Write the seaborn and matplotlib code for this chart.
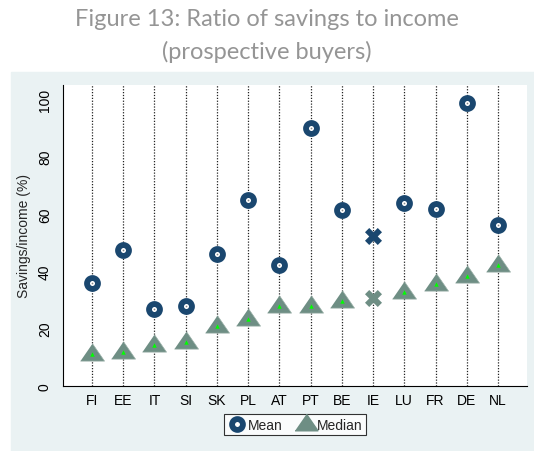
import numpy as np
import pandas as pd
import matplotlib
matplotlib.use("Agg")
import matplotlib.pyplot as plt
from matplotlib.patches import Rectangle
from matplotlib.lines import Line2D
import seaborn as sns

# Data
countries = ["FI", "EE", "IT", "SI", "SK", "PL", "AT", "PT", "BE", "IE", "LU", "FR", "DE", "NL"]
mean_vals = [35.9, 47.4, 27.0, 27.8, 46.1, 64.9, 42.3, 89.9, 61.4, 52.2, 64.0, 61.7, 98.7, 56.2]
median_vals = [11.1, 11.9, 14.4, 15.5, 21.1, 23.3, 27.8, 28.0, 29.5, 30.8, 32.9, 35.7, 38.3, 42.1]
flagged = ["IE"]  # drawn with a cross instead

NAVY = "#1a476f"
TEAL = "#6e8e84"
PANEL = "#eaf2f3"

df = pd.DataFrame({"country": countries, "Mean": mean_vals, "Median": median_vals})
df["x"] = np.arange(len(df))
normal = df[~df["country"].isin(flagged)]
odd = df[df["country"].isin(flagged)]

sns.set_style("white")
plt.rcParams["font.family"] = ["Liberation Sans", "DejaVu Sans"]

fig = plt.figure(figsize=(5.34, 4.52), dpi=100)
fig.patches.append(Rectangle((11 / 534, 0), 1, (452 - 73) / 452, transform=fig.transFigure,
                             color=PANEL, zorder=-10))
ax = fig.add_axes([63 / 534, (452 - 387) / 452, 464 / 534, 301 / 452])
ax.set_zorder(2)
ax.set_facecolor("white")

# dotted vertical guide lines
for xi in df["x"]:
    ax.axvline(xi, color="#222222", lw=0.9, ls=(0, (1, 1.3)), zorder=1)

tri = [(-1, -0.55), (1, -0.55), (0, 0.9)]
sns.scatterplot(data=normal, x="x", y="Median", marker=tri, s=300, color=TEAL,
                edgecolor="#9ab0a8", linewidth=0.5, ax=ax, zorder=3, legend=False)
sns.scatterplot(data=normal, x="x", y="Median", marker="^", s=10, color="#00ff00",
                linewidth=0, ax=ax, zorder=4, legend=False)
sns.scatterplot(data=normal, x="x", y="Mean", marker="o", s=62, color="white",
                edgecolor=NAVY, linewidth=4.2, ax=ax, zorder=3, legend=False)
sns.scatterplot(data=normal, x="x", y="Mean", marker=".", s=6, color="#888888",
                linewidth=0, ax=ax, zorder=4, legend=False)
sns.scatterplot(data=odd, x="x", y="Mean", marker="X", s=150, color=NAVY,
                linewidth=0, ax=ax, zorder=3, legend=False)
sns.scatterplot(data=odd, x="x", y="Median", marker="X", s=150, color=TEAL,
                linewidth=0, ax=ax, zorder=3, legend=False)

ax.set_xlim(-0.93, 13.93)
ax.set_ylim(0, 105)
ax.set_xticks(df["x"])
ax.set_xticklabels(countries)
ax.set_yticks([0, 20, 40, 60, 80, 100])
ax.tick_params(axis="x", length=0, pad=5, labelsize=10, colors="black")
ax.tick_params(axis="y", length=5, width=0.8, pad=3, labelsize=10, colors="black",
               labelrotation=90)
for lab in ax.get_yticklabels():
    lab.set_va("center")
ax.set_xlabel("")
ax.set_ylabel("Savings/income (%)", fontsize=10, labelpad=5)
for side in ["top", "right"]:
    ax.spines[side].set_visible(False)
for side in ["left", "bottom"]:
    ax.spines[side].set_color("black")
    ax.spines[side].set_linewidth(0.8)

handles = [
    Line2D([], [], ls="none", marker="o", ms=7.8, mfc="white", mec=NAVY, mew=4.2),
    Line2D([], [], ls="none", marker=tri, ms=16.5, color=TEAL),
]
leg = ax.legend(handles, ["Mean", "Median"], loc="center", bbox_to_anchor=(0.5, -0.128),
                ncol=2, frameon=True, fancybox=False, fontsize=10, handletextpad=0.1,
                columnspacing=1.0, handlelength=1.4, borderpad=0.25, borderaxespad=0)
leg.get_frame().set_edgecolor("black")
leg.get_frame().set_linewidth(0.8)

fig.text(0.5, 1 - 20 / 452, "Figure 13: Ratio of savings to income", ha="center", va="center",
         fontsize=17, color="#959595", family=["Lato", "DejaVu Sans"])
fig.text(0.5, 1 - 52 / 452, "(prospective buyers)", ha="center", va="center",
         fontsize=17, color="#959595", family=["Lato", "DejaVu Sans"])

fig.savefig("out.png", dpi=100, facecolor="white")
